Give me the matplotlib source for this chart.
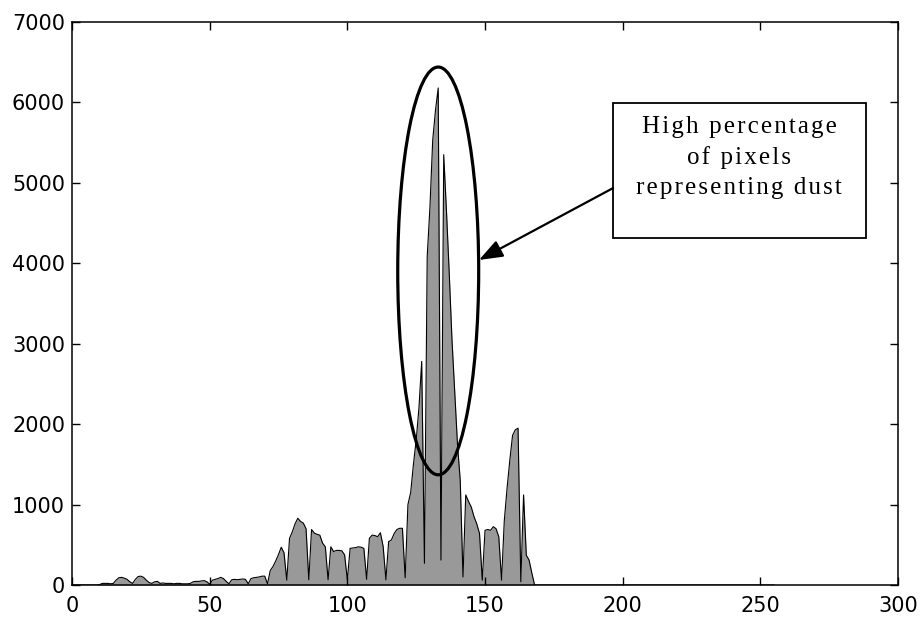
import matplotlib
matplotlib.use("Agg")
import matplotlib.pyplot as plt
from matplotlib.patches import Ellipse, Rectangle
import numpy as np

# histogram counts per gray level
levels = np.arange(0, 256)
counts_head = [
    0, 0, 0, 0, 0, 0, 0, 0, 0, 0,                       # 0-9
    5, 20, 20, 20, 15, 20, 60, 90, 95, 85,              # 10-19
    70, 40, 20, 70, 105, 110, 95, 60, 30, 20,           # 20-29
    40, 45, 20, 25, 20, 20, 20, 15, 20, 20,             # 30-39
    15, 15, 15, 20, 40, 45, 45, 50, 55, 40,             # 40-49
    10, 60, 70, 80, 95, 80, 45, 15, 65, 70,             # 50-59
    65, 70, 75, 70, 15, 80, 90, 95, 100, 110,           # 60-69
    110, 15, 180, 230, 300, 380, 470, 400, 60, 580,     # 70-79
    660, 760, 830, 790, 770, 700, 65, 690, 645, 630,    # 80-89
    620, 520, 475, 65, 475, 415, 430, 430, 425, 375,    # 90-99
    65, 455, 460, 465, 475, 470, 455, 70, 580, 620,     # 100-109
    615, 600, 650, 480, 65, 540, 560, 640, 690, 705,    # 110-119
    705, 90, 1000, 1150, 1500, 1800, 2200, 2780, 270, 4080,  # 120-129
    4700, 5530, 5900, 6180, 310, 5350, 4650, 3880, 3050, 2400,  # 130-139
    1750, 1300, 100, 1120, 1040, 970, 850, 760, 640, 60,  # 140-149
    680, 690, 680, 725, 700, 600, 60, 800, 1200, 1550,  # 150-159
    1860, 1930, 1950, 40, 1120, 370, 310, 150, 0,       # 160-168
]
counts = np.zeros(len(levels))
counts[:len(counts_head)] = counts_head

# ellipse around the main peak (data coords)
ell_center = (133.0, 3905)
ell_width = 29.4
ell_height = 5070

note_lines = ["High percentage", "of pixels", "representing dust"]

fig = plt.figure(figsize=(9.22, 6.18), dpi=100)
ax = fig.add_axes([0.0781, 0.0534, 0.8959, 0.9110])

ax.fill_between(levels, counts, 0, color="#999999", linewidth=0)
ax.plot(levels, counts, color="black", linewidth=0.8)

ax.set_xlim(0, 300)
ax.set_ylim(0, 7000)
ax.set_xticks(np.arange(0, 301, 50))
ax.set_yticks(np.arange(0, 7001, 1000))

ax.tick_params(direction="in", length=6, width=1, labelsize=15,
               top=True, right=True)
ax.tick_params(axis="x", pad=8)
ax.tick_params(axis="y", pad=5)
for s in ax.spines.values():
    s.set_linewidth(1.1)

ax.add_patch(Ellipse(ell_center, ell_width, ell_height, fill=False,
                     edgecolor="black", linewidth=2.3, zorder=5))

# text box, letters spread out with hair spaces
ax.add_patch(Rectangle((0.655, 0.616), 0.306, 0.240, transform=ax.transAxes,
                       fill=False, edgecolor="black", linewidth=1.3, zorder=5))
note = "\n".join("\u200a".join(line) for line in note_lines)
ax.text(0.8075, 0.759, note, transform=ax.transAxes, ha="center", va="center",
        family=["Liberation Serif", "DejaVu Serif"], fontsize=18,
        linespacing=1.46, zorder=6)

ax.annotate("", xy=(0.4927, 0.5773), xytext=(0.655, 0.705),
            xycoords="axes fraction", textcoords="axes fraction",
            arrowprops=dict(arrowstyle="-|>,head_length=0.8,head_width=0.3",
                            mutation_scale=18, color="black", linewidth=1.6,
                            shrinkA=0, shrinkB=0))

fig.savefig("out.png", dpi=100)
plt.close(fig)
